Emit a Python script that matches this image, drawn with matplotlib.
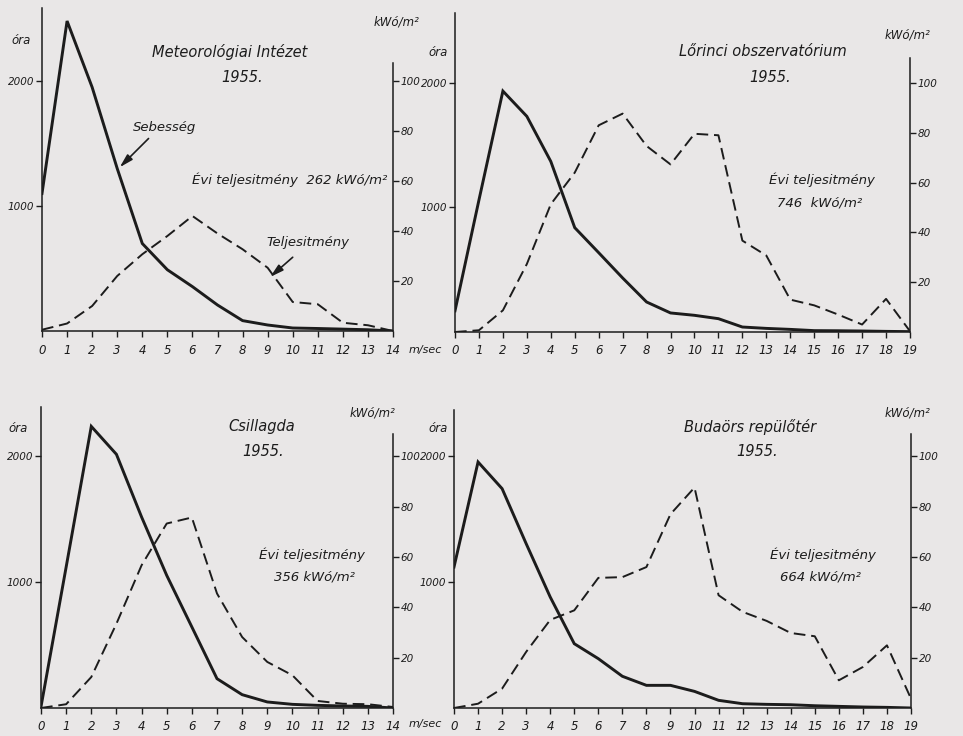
import matplotlib.pyplot as plt

W, H = 963, 736

# szélsebesség (m/sec) osztályok
speeds_14 = list(range(15))
speeds_19 = list(range(20))

# Meteorológiai Intézet
met_hours = [1100, 2480, 1950, 1300, 700, 490, 355, 208, 83, 48, 24, 20, 15, 10, 0]
met_power = [0.5, 3, 10, 22, 30.7, 38, 46, 39, 32.7, 25.3, 11.6, 10.7, 3.3, 2.3, 0]

# Lőrinci obszervatórium
lor_hours = [170, 1060, 1935, 1732, 1370, 838, 637, 434, 241, 153, 134, 107, 40, 29,
             21, 11, 10, 8, 5, 3]
lor_power = [0, 0.7, 8.7, 27.3, 51.3, 64, 83, 87.7, 74.7, 67.3, 79.6, 79, 36.7, 30.7,
             13, 10.7, 7, 3, 13.3, 0.3]

# Csillagda
csi_hours = [10, 1120, 2238, 2016, 1518, 1054, 644, 233, 106, 48, 29, 21, 16, 13, 0]
csi_power = [0, 1.5, 12.3, 33.5, 56.7, 73.3, 75.7, 45.5, 28.2, 18.3, 13, 2.8, 1.7, 1.5, 0.4]

# Budaörs repülőtér
bud_hours = [1120, 1955, 1743, 1306, 882, 511, 392, 252, 180, 180, 132, 61, 34, 29,
             26, 18, 13, 8, 5, 0]
bud_power = [0, 1.7, 7.7, 22.3, 35, 38.8, 51.7, 52, 56, 77, 87.6, 44.8, 38.2, 34.6,
             29.8, 28.5, 11, 16.3, 24.9, 3.7]

BG = '#e9e7e7'
INK = '#1c1c1c'
FONT = dict(family='DejaVu Sans', style='italic', color=INK)


def fx(x):
    return x / W


def fy(y):
    return 1 - y / H


def panel(fig, box, x, hours, power, ymax, rtop):
    x0, x1, y0, ytop = box
    ax = fig.add_axes([fx(x0), fy(y0), fx(x1 - x0), (y0 - ytop) / H])
    ax.patch.set_alpha(0)
    ax2 = ax.twinx()
    ax2.patch.set_alpha(0)

    ax.plot(x, hours, color=INK, lw=2.1, solid_joinstyle='miter')
    ax2.plot(x, power, color=INK, lw=1.4, dashes=(6, 3))

    ax.set_xlim(0, x[-1])
    ax.set_ylim(0, ymax)
    ax2.set_ylim(0, ymax / 20)

    for a in (ax, ax2):
        for s in a.spines.values():
            s.set_color(INK)
            s.set_linewidth(1.1)
        a.spines['top'].set_visible(False)
    ax.spines['right'].set_visible(False)
    ax2.spines['left'].set_visible(False)
    ax2.spines['bottom'].set_visible(False)
    ax2.spines['right'].set_bounds(0, rtop)

    ax.set_xticks(x)
    ax.set_yticks([1000, 2000])
    ax2.set_yticks([20, 40, 60, 80, 100])
    for a in (ax, ax2):
        a.tick_params(direction='out', length=4, width=1, color=INK, pad=1.5,
                      labelsize=7.5, labelcolor=INK)
        for lab in a.get_xticklabels() + a.get_yticklabels():
            lab.set_fontstyle('italic')
    ax.tick_params(axis='x', labelsize=8.5, pad=5)
    return ax, ax2


fig = plt.figure(figsize=(W / 100, H / 100), dpi=100, facecolor=BG)

tl, tl2 = panel(fig, (42, 393, 331, 8), speeds_14, met_hours, met_power, 2584, 107)
tr, tr2 = panel(fig, (455, 910, 332, 13), speeds_19, lor_hours, lor_power, 2562, 110)
bl, bl2 = panel(fig, (41, 393, 708, 407), speeds_14, csi_hours, csi_power, 2392, 109)
br, br2 = panel(fig, (454, 911, 708, 410), speeds_19, bud_hours, bud_power, 2368, 109)


def t(x, y, s, size=10, ha='center'):
    fig.text(fx(x), fy(y), s, ha=ha, va='center', fontsize=size, **FONT)


# feliratok
t(230, 52, 'Meteorológiai Intézet', 10.5)
t(242, 78, '1955.', 10.5)
t(290, 180, 'Évi teljesitmény  262 kWó/m²', 9.5)

t(763, 52, 'Lőrinci obszervatórium', 10.5)
t(770, 78, '1955.', 10.5)
t(822, 180, 'Évi teljesitmény', 9.5)
t(820, 203, '746  kWó/m²', 9.5)

t(262, 427, 'Csillagda', 10.5)
t(263, 451, '1955.', 10.5)
t(312, 555, 'Évi teljesitmény', 9.5)
t(315, 577, '356 kWó/m²', 9.5)

t(750, 427, 'Budaörs repülőtér', 10.5)
t(757, 452, '1955.', 10.5)
t(823, 555, 'Évi teljesitmény', 9.5)
t(820, 577, '664 kWó/m²', 9.5)

for (ox, oy) in [(21, 40), (438, 53), (18, 428), (438, 428)]:
    t(ox, oy, 'óra', 8.5)
for (kx, ky) in [(397, 22), (908, 35), (373, 413), (908, 413)]:
    t(kx, ky, 'kWó/m²', 8.5)
for my in (350, 724):
    t(425, my, 'm/sec', 8)

# nyilak
arrow = dict(arrowstyle='-|>,head_length=0.8,head_width=0.22', lw=1.2, color=INK,
             shrinkA=0, shrinkB=0)
tl.annotate('Sebesség', xy=(3.1, 1310), xytext=(4.9, 1630), ha='center', va='center',
            fontsize=9.5, **FONT)
tl.annotate('', xy=(3.1, 1310), xytext=(4.25, 1540), arrowprops=arrow)
tl2.annotate('Teljesitmény', xy=(9.1, 21.6), xytext=(10.6, 35.5), ha='center',
             va='center', fontsize=9.5, **FONT)
tl2.annotate('', xy=(9.1, 21.6), xytext=(10.0, 29.5), arrowprops=arrow)

fig.savefig('out.png', dpi=100, facecolor=BG)
